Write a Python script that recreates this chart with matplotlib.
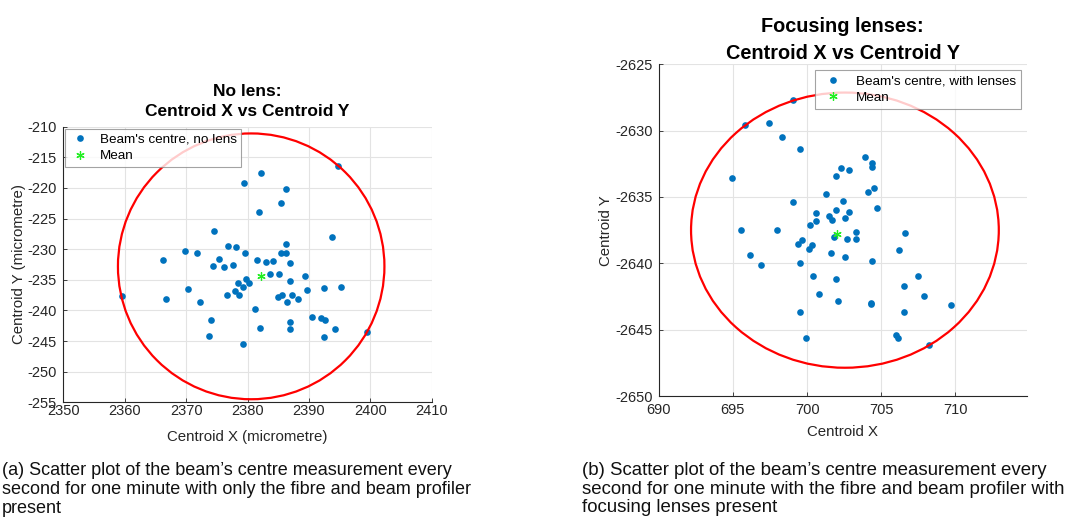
import matplotlib
matplotlib.use("Agg")
import matplotlib.pyplot as plt
from matplotlib.patches import Circle

plt.rcParams['font.family'] = ['Liberation Sans', 'DejaVu Sans']
plt.rcParams['axes.unicode_minus'] = False

# ---------------- data: no lens ----------------
nolens_x = [2394.8, 2382.2, 2379.4, 2386.3, 2385.5, 2381.8, 2374.6, 2393.8, 2386.2, 2376.8,
            2378.2, 2369.8, 2371.7, 2379.6, 2385.5, 2386.3, 2366.2, 2375.4, 2381.5, 2383.0,
            2384.1, 2374.4, 2376.1, 2377.6, 2386.9, 2383.7, 2385.1, 2389.3, 2379.8, 2386.9,
            2378.4, 2380.2, 2379.2, 2370.3, 2392.4, 2395.3, 2389.7, 2378.0, 2376.7, 2378.6,
            2385.0, 2385.7, 2387.2, 2388.2, 2386.4, 2366.7, 2372.3, 2381.2, 2390.5, 2391.9,
            2392.7, 2374.0, 2386.9, 2382.1, 2386.9, 2394.3, 2373.7, 2392.5, 2379.3, 2399.4,
            2359.6]
nolens_y = [-216.4, -217.6, -219.2, -220.1, -222.5, -223.9, -227.0, -228.0, -229.1, -229.4,
            -229.7, -230.3, -230.7, -230.7, -230.7, -230.6, -231.8, -231.6, -231.8, -232.1,
            -231.9, -232.7, -232.9, -232.6, -232.3, -234.1, -234.0, -234.3, -234.9, -235.2,
            -235.6, -235.5, -236.1, -236.5, -236.4, -236.1, -236.7, -236.9, -237.4, -237.5,
            -237.8, -237.5, -237.5, -238.1, -238.6, -238.1, -238.6, -239.7, -241.0, -241.3,
            -241.6, -241.6, -241.9, -242.8, -243.0, -243.0, -244.2, -244.3, -245.4, -243.5,
            -237.6]
nolens_mean = (2382.2, -234.4)
nolens_circle_centre = (2380.6, -232.8)
nolens_circle_radius = 21.7

# ---------------- data: with lenses ----------------
lens_x = [699.08, 695.79, 697.46, 698.29, 699.49, 694.95, 703.91, 704.38, 704.38, 702.29,
          702.81, 701.97, 704.50, 704.09, 701.27, 699.08, 702.40, 704.70, 700.57, 701.97,
          702.81, 701.47, 701.70, 702.58, 700.59, 700.19, 695.56, 697.98, 703.30, 706.62,
          701.79, 702.69, 703.30, 699.69, 699.38, 700.30, 700.10, 696.17, 701.59, 702.58,
          706.21, 696.87, 699.49, 704.38, 700.39, 701.97, 707.50, 706.50, 700.80, 707.90,
          702.11, 704.29, 704.29, 699.49, 706.50, 709.71, 699.90, 705.99, 706.10, 708.20]
lens_y = [-2627.68, -2629.60, -2629.40, -2630.50, -2631.38, -2633.60, -2631.99, -2632.42, -2632.72, -2632.79,
          -2632.99, -2633.40, -2634.30, -2634.63, -2634.81, -2635.41, -2635.31, -2635.81, -2636.22, -2636.01,
          -2636.11, -2636.47, -2636.72, -2636.62, -2636.82, -2637.12, -2637.52, -2637.52, -2637.62, -2637.70,
          -2638.03, -2638.13, -2638.13, -2638.23, -2638.53, -2638.61, -2638.93, -2639.34, -2639.23, -2639.51,
          -2639.03, -2640.12, -2639.94, -2639.84, -2640.92, -2641.15, -2640.95, -2641.73, -2642.33, -2642.46,
          -2642.83, -2642.96, -2643.06, -2643.64, -2643.64, -2643.14, -2645.63, -2645.43, -2645.63, -2646.13]
lens_mean = (702.04, -2637.80)
lens_circle_centre = (702.55, -2637.5)
lens_circle_radius = 10.37

# ticks / limits
left_xticks = [2350, 2360, 2370, 2380, 2390, 2400, 2410]
left_yticks = [-255, -250, -245, -240, -235, -230, -225, -220, -215, -210]
right_xticks = [690, 695, 700, 705, 710]
right_yticks = [-2650, -2645, -2640, -2635, -2630, -2625]

caption_a = ("(a) Scatter plot of the beam\u2019s centre measurement every\n"
             "second for one minute with only the fibre and beam profiler\n"
             "present")
caption_b = ("(b) Scatter plot of the beam\u2019s centre measurement every\n"
             "second for one minute with the fibre and beam profiler with\n"
             "focusing lenses present")

BLUE = '#0072BD'
GREEN = '#22EE22'
AXC = '#262626'

W, H = 1073, 520
fig = plt.figure(figsize=(W / 100, H / 100), dpi=100)


def px_axes(x0, y0, x1, y1):
    return fig.add_axes([x0 / W, 1 - y1 / H, (x1 - x0) / W, (y1 - y0) / H])


def style(ax, xt, yt, xlim, ylim, xpad, ypad):
    ax.set_xlim(*xlim)
    ax.set_ylim(*ylim)
    ax.set_xticks(xt)
    ax.set_yticks(yt)
    ax.grid(True, color='#e3e3e3', linewidth=0.8)
    ax.set_axisbelow(True)
    for s in ['top', 'right']:
        ax.spines[s].set_visible(False)
    for s in ['left', 'bottom']:
        ax.spines[s].set_color(AXC)
        ax.spines[s].set_linewidth(0.8)
    ax.tick_params(direction='in', length=3, width=0.6, colors=AXC, labelsize=10.5)
    ax.tick_params(axis='x', pad=xpad)
    ax.tick_params(axis='y', pad=ypad)


def legend(ax, loc, pad, fs, hl):
    leg = ax.legend(loc=loc, fontsize=fs, frameon=True, fancybox=False,
                    borderaxespad=pad, handletextpad=0.7, borderpad=0.35, labelspacing=0.3,
                    handlelength=hl)
    leg.get_frame().set_edgecolor('#8c8c8c')
    leg.get_frame().set_linewidth(0.8)
    leg.set_zorder(10)
    return leg


# ----- left -----
axL = px_axes(63.3, 126.7, 431.7, 402.3)
style(axL, left_xticks, left_yticks, (2350, 2410), (-255, -210), 1.5, 4.5)
axL.plot(nolens_x, nolens_y, 'o', color=BLUE, markersize=4.8, markeredgewidth=0,
         label="Beam's centre, no lens", zorder=3)
axL.plot([nolens_mean[0]], [nolens_mean[1]], marker=(6, 2, 0), color=GREEN, markersize=6,
         markeredgewidth=0.9, linestyle='none', label='Mean', zorder=4)
axL.add_patch(Circle(nolens_circle_centre, nolens_circle_radius, fill=False, color='#FF0000',
                     linewidth=1.6, zorder=5))
axL.set_xlabel('Centroid X (micrometre)', fontsize=10.8, color=AXC, labelpad=8.5)
axL.set_ylabel('Centroid Y (micrometre)', fontsize=10.8, color=AXC, labelpad=1.5)
axL.set_title('No lens:\nCentroid X vs Centroid Y', fontsize=12.5, fontweight='bold', pad=8,
              linespacing=1.38)
legend(axL, 'upper left', 0.15, 9.7, 1.5)

# ----- right -----
axR = px_axes(658.7, 64.3, 1026.7, 396.0)
style(axR, right_xticks, right_yticks, (690, 714.8), (-2650, -2625), 5.0, 4.0)
axR.plot(lens_x, lens_y, 'o', color=BLUE, markersize=4.8, markeredgewidth=0,
         label="Beam's centre, with lenses", zorder=3)
axR.plot([lens_mean[0]], [lens_mean[1]], marker=(6, 2, 0), color=GREEN, markersize=6,
         markeredgewidth=0.9, linestyle='none', label='Mean', zorder=4)
axR.add_patch(Circle(lens_circle_centre, lens_circle_radius, fill=False, color='#FF0000',
                     linewidth=1.6, zorder=5))
axR.set_xlabel('Centroid X', fontsize=10.8, color=AXC, labelpad=6)
axR.set_ylabel('Centroid Y', fontsize=10.8, color=AXC, labelpad=2)
axR.set_title('Focusing lenses:\nCentroid X vs Centroid Y', fontsize=14.3, fontweight='bold',
              pad=4, linespacing=1.5)
legend(axR, 'upper right', 0.45, 9.7, 2.0)

# ----- captions -----
fig.text(2 / W, 1 - 462 / H, caption_a, fontsize=13.0, va='top', ha='left', linespacing=1.15,
         color='#111111')
fig.text(582 / W, 1 - 462 / H, caption_b, fontsize=13.4, va='top', ha='left', linespacing=1.12,
         color='#111111')

fig.savefig('out.png', dpi=100)
